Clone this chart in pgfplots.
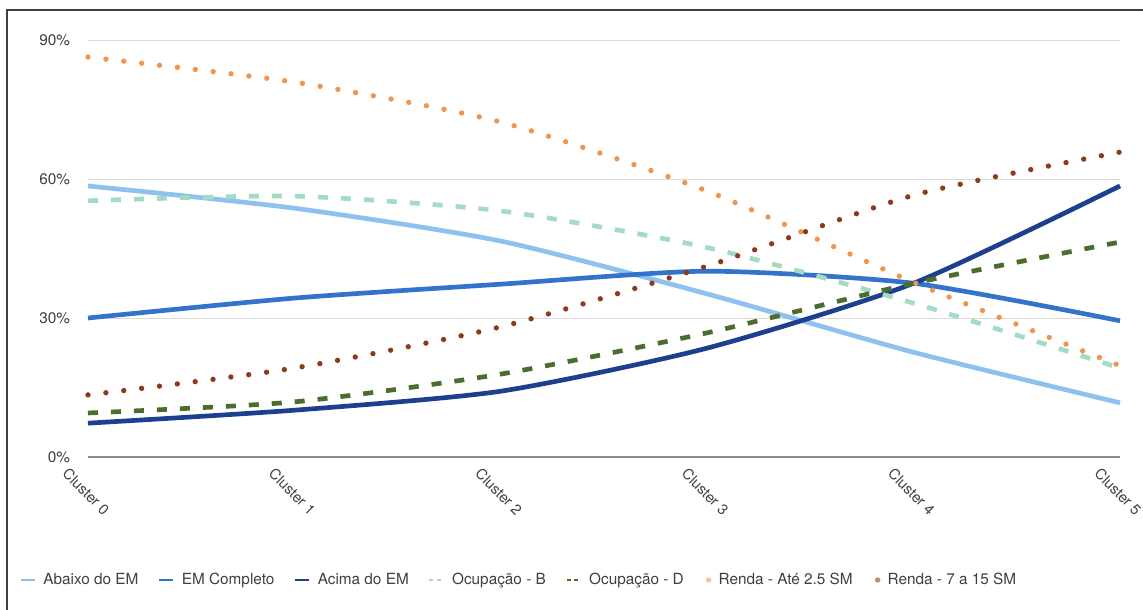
\documentclass[border=0pt]{standalone}
\usepackage{pgfplots}
\pgfplotsset{compat=1.18}
\usepackage{fontspec}
\setmainfont{TeX Gyre Heros}
\definecolor{cLB}{HTML}{8EC1F0}
\definecolor{cMB}{HTML}{3473CC}
\definecolor{cDB}{HTML}{1C3F8E}
\definecolor{cLG}{HTML}{A3DCC2}
\definecolor{cDG}{HTML}{4B6E2C}
\definecolor{cOR}{HTML}{EE9550}
\definecolor{cBR}{HTML}{8C3A1C}
\definecolor{cTX}{HTML}{404040}
\begin{document}
\begin{tikzpicture}
\useasboundingbox (-66pt,-114.75pt) rectangle (791.25pt,342.75pt);
\fill[white] (-66pt,-114.75pt) rectangle (791.25pt,342.75pt);
\draw[line width=1.5pt, black!75] (-60.75pt,-114.75pt) -- (-60.75pt,335.25pt) -- (791.25pt,335.25pt);
\begin{axis}[
  at={(0,0)}, anchor=south west,
  scale only axis, width=774pt, height=312.75pt,
  xmin=0, xmax=5, ymin=0, ymax=90,
  clip=false,
  axis line style={draw=none},
  major tick length=0pt,
  xtick={0,1,2,3,4,5},
  xticklabels={Cluster 0,Cluster 1,Cluster 2,Cluster 3,Cluster 4,Cluster 5},
  ytick={0,30,60,90},
  yticklabel={\pgfmathprintnumber{\tick}\%},
  ymajorgrids,
  grid style={black!15, line width=0.75pt},
  /pgf/number format/assume math mode=true,
  tick label style={font=\fontsize{11.5}{13}\selectfont, text=cTX},
  yticklabel style={anchor=east, xshift=-10pt},
  xticklabel style={font=\fontsize{11}{13}\selectfont, yshift=-26pt, xshift=-1.5pt, rotate=-45, anchor=center},
  legend style={at={(-0.0707,-0.295)}, anchor=west, draw=none, fill=none,
    font=\fontsize{11.5}{13}\selectfont, text=cTX,
    /tikz/every even column/.append style={column sep=13pt},
    /tikz/every odd column/.append style={column sep=4pt},
    nodes={inner sep=1.5pt}},
  legend columns=-1,
  every axis plot/.append style={smooth, tension=0.4},
]
\draw[black!45, line width=1.5pt] (axis cs:0,0) -- (axis cs:5,0);

\addplot[cLB, line width=3.5pt, legend image code/.code={\draw[cLB, line width=2pt] (0pt,0pt) -- (10.5pt,0pt);}]
  coordinates {(0,58.5) (1,53.7) (2,46.6) (3,35.2) (4,22.6) (5,11.7)};
\addlegendentry{Abaixo do EM}
\addplot[cMB, line width=3.5pt, legend image code/.code={\draw[cMB, line width=2pt] (0pt,0pt) -- (10.5pt,0pt);}]
  coordinates {(0,30.0) (1,34.3) (2,37.3) (3,40.1) (4,37.5) (5,29.4)};
\addlegendentry{EM Completo}
\addplot[cDB, line width=3.5pt, legend image code/.code={\draw[cDB, line width=2pt] (0pt,0pt) -- (10.5pt,0pt);}]
  coordinates {(0,7.3) (1,10.1) (2,14.2) (3,23.5) (4,37.5) (5,58.5)};
\addlegendentry{Acima do EM}
\addplot[cLG, line width=3.5pt, dash pattern=on 7.5pt off 9.75pt, legend image code/.code={\draw[cLG, line width=2pt, dash pattern=on 3pt off 2.5pt] (0pt,0pt) -- (10.5pt,0pt);}]
  coordinates {(0,55.3) (1,56.3) (2,53.1) (3,45.2) (4,33.2) (5,19.2)};
\addlegendentry{Ocupação - B}
\addplot[cDG, line width=3.5pt, dash pattern=on 7.5pt off 9.75pt, legend image code/.code={\draw[cDG, line width=2pt, dash pattern=on 3pt off 2.5pt] (0pt,0pt) -- (10.5pt,0pt);}]
  coordinates {(0,9.5) (1,11.9) (2,17.9) (3,26.8) (4,37.5) (5,46.4)};
\addlegendentry{Ocupação - D}
\addplot[cOR, line width=4pt, line cap=round, dash pattern=on 0pt off 13.5pt, legend image code/.code={\fill[cOR!60] (5.25pt,0pt) circle (1.1pt);}]
  coordinates {(0,86.3) (1,80.9) (2,72.3) (3,57.4) (4,37.7) (5,19.7)};
\addlegendentry{Renda - Até 2.5 SM}
\addplot[cBR, line width=4pt, line cap=round, dash pattern=on 0pt off 13.5pt, legend image code/.code={\fill[cBR!60] (5.25pt,0pt) circle (1.1pt);}]
  coordinates {(0,13.4) (1,19.2) (2,28.1) (3,41.2) (4,56.5) (5,65.8)};
\addlegendentry{Renda - 7 a 15 SM}
\end{axis}
\end{tikzpicture}
\end{document}
